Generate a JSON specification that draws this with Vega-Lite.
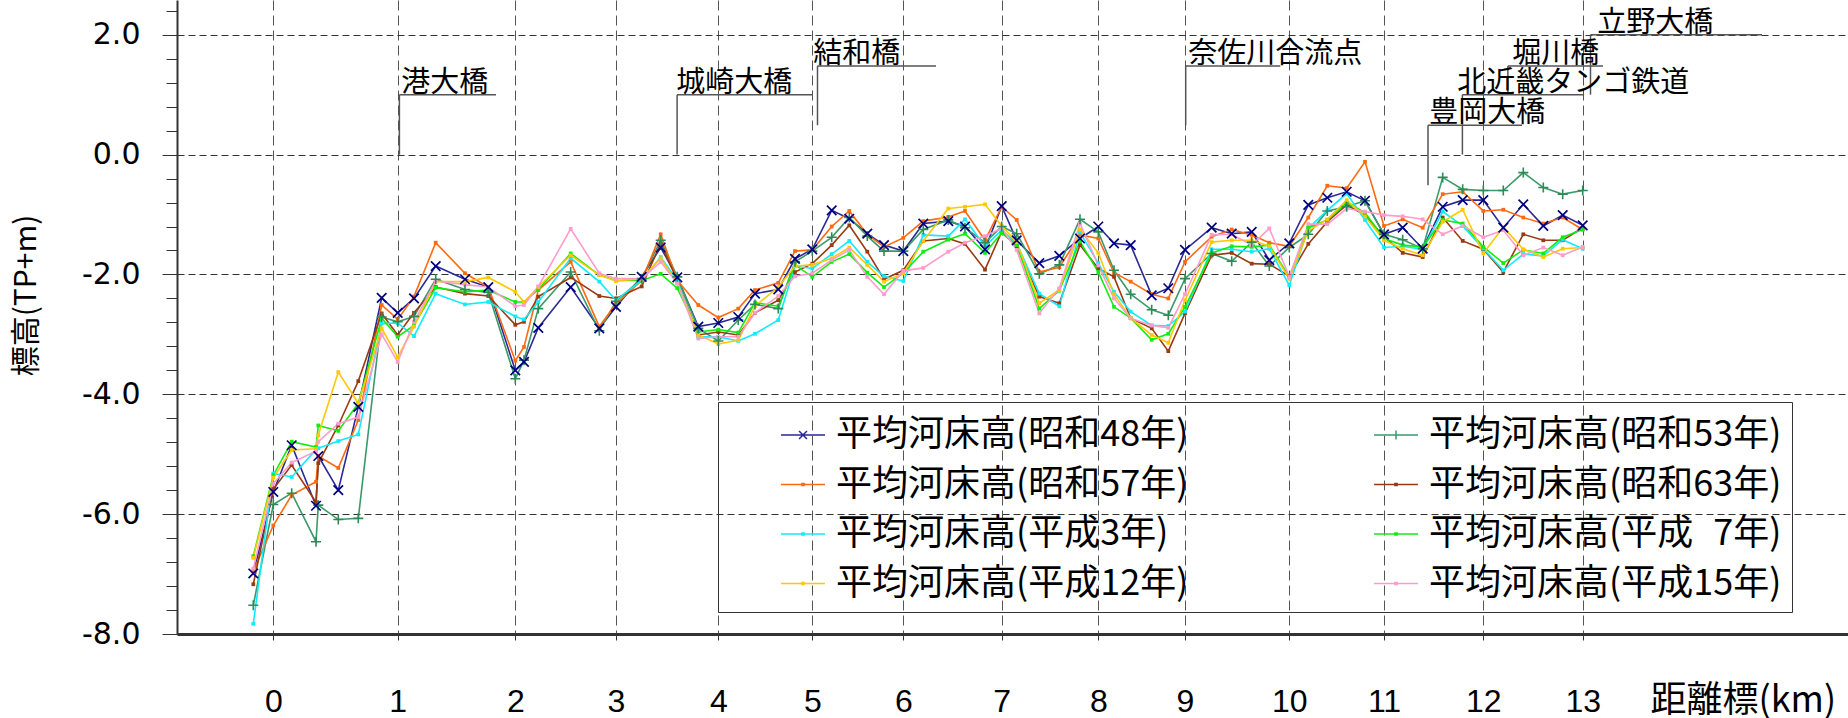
{
"$schema": "https://vega.github.io/schema/vega-lite/v6.json",
"width": 1671, "height": 634,
"autosize": "none",
"padding": {"left": 177, "top": 0, "right": 0, "bottom": 84},
"background": "white",
"config": {"view": {"stroke": null}, "font": "Liberation Sans"},
"datasets": {
"leaders": [
{"d":1.261,"z":0,"d2":1.261,"z2":1.0},{"d":1.261,"z":1.0,"d2":2.227,"z2":1.0},
{"d":4.038,"z":0,"d2":4.038,"z2":1.0},{"d":4.038,"z":1.0,"d2":5.397,"z2":1.0},
{"d":5.442,"z":0.49,"d2":5.442,"z2":1.48},{"d":5.442,"z":1.48,"d2":6.627,"z2":1.48},
{"d":9.124,"z":0.49,"d2":9.124,"z2":1.48},{"d":9.124,"z":1.48,"d2":10.07,"z2":1.48},
{"d":11.547,"z":-0.51,"d2":11.547,"z2":0.49},{"d":11.547,"z":0.49,"d2":12.487,"z2":0.49},
{"d":11.891,"z":0,"d2":11.891,"z2":1.0},{"d":11.891,"z":1.0,"d2":13.107,"z2":1.0},
{"d":12.346,"z":1.0,"d2":12.346,"z2":1.48},{"d":12.346,"z":1.48,"d2":13.297,"z2":1.48},
{"d":13.172,"z":1.0,"d2":13.172,"z2":2.0},{"d":13.172,"z":2.0,"d2":14.887,"z2":2.0}
],
"labels": [
{"t":"港大橋","d":1.28,"z":1.0},
{"t":"城崎大橋","d":4.03,"z":1.0},
{"t":"結和橋","d":5.40,"z":1.48},
{"t":"奈佐川合流点","d":9.15,"z":1.48},
{"t":"豊岡大橋","d":11.56,"z":0.49},
{"t":"北近畿タンゴ鉄道","d":11.84,"z":1.0},
{"t":"堀川橋","d":12.39,"z":1.48},
{"t":"立野大橋","d":13.24,"z":2.0}
],
"elev": [
{"s":"昭和48年","d":-0.2,"z":-6.99},{"s":"昭和48年","d":0,"z":-5.63},{"s":"昭和48年","d":0.184,"z":-4.85},{"s":"昭和48年","d":0.427,"z":-5.86},{"s":"昭和48年","d":0.45,"z":-5.03},{"s":"昭和48年","d":0.65,"z":-5.60},{"s":"昭和48年","d":0.85,"z":-4.21},{"s":"昭和48年","d":1.084,"z":-2.39},{"s":"昭和48年","d":1.244,"z":-2.64},{"s":"昭和48年","d":1.407,"z":-2.40},
{"s":"昭和48年","d":1.624,"z":-1.86},{"s":"昭和48年","d":1.917,"z":-2.08},{"s":"昭和48年","d":2.15,"z":-2.21},{"s":"昭和48年","d":2.42,"z":-3.60},{"s":"昭和48年","d":2.507,"z":-3.46},{"s":"昭和48年","d":2.65,"z":-2.89},{"s":"昭和48年","d":2.974,"z":-2.21},{"s":"昭和48年","d":3.26,"z":-2.90},{"s":"昭和48年","d":3.427,"z":-2.54},{"s":"昭和48年","d":3.684,"z":-2.04},
{"s":"昭和48年","d":3.874,"z":-1.55},{"s":"昭和48年","d":4.04,"z":-2.05},{"s":"昭和48年","d":4.25,"z":-2.87},{"s":"昭和48年","d":4.45,"z":-2.81},{"s":"昭和48年","d":4.65,"z":-2.71},{"s":"昭和48年","d":4.817,"z":-2.32},{"s":"昭和48年","d":5.05,"z":-2.25},{"s":"昭和48年","d":5.217,"z":-1.74},{"s":"昭和48年","d":5.39,"z":-1.58},{"s":"昭和48年","d":5.584,"z":-0.93},
{"s":"昭和48年","d":5.76,"z":-1.07},{"s":"昭和48年","d":5.94,"z":-1.32},{"s":"昭和48年","d":6.107,"z":-1.51},{"s":"昭和48年","d":6.3,"z":-1.61},{"s":"昭和48年","d":6.5,"z":-1.15},{"s":"昭和48年","d":6.75,"z":-1.11},{"s":"昭和48年","d":6.917,"z":-1.20},{"s":"昭和48年","d":7.117,"z":-1.58},{"s":"昭和48年","d":7.284,"z":-0.86},{"s":"昭和48年","d":7.434,"z":-1.43},
{"s":"昭和48年","d":7.66,"z":-1.81},{"s":"昭和48年","d":7.86,"z":-1.69},{"s":"昭和48年","d":8.067,"z":-1.40},{"s":"昭和48年","d":8.25,"z":-1.20},{"s":"昭和48年","d":8.407,"z":-1.48},{"s":"昭和48年","d":8.574,"z":-1.51},{"s":"昭和48年","d":8.784,"z":-2.35},{"s":"昭和48年","d":8.95,"z":-2.23},{"s":"昭和48年","d":9.117,"z":-1.59},{"s":"昭和48年","d":9.384,"z":-1.22},
{"s":"昭和48年","d":9.584,"z":-1.32},{"s":"昭和48年","d":9.784,"z":-1.29},{"s":"昭和48年","d":9.96,"z":-1.76},{"s":"昭和48年","d":10.16,"z":-1.48},{"s":"昭和48年","d":10.35,"z":-0.84},{"s":"昭和48年","d":10.54,"z":-0.72},{"s":"昭和48年","d":10.734,"z":-0.62},{"s":"昭和48年","d":10.917,"z":-0.77},{"s":"昭和48年","d":11.107,"z":-1.33},{"s":"昭和48年","d":11.294,"z":-1.22},
{"s":"昭和48年","d":11.494,"z":-1.57},{"s":"昭和48年","d":11.694,"z":-0.87},{"s":"昭和48年","d":11.894,"z":-0.76},{"s":"昭和48年","d":12.1,"z":-0.76},{"s":"昭和48年","d":12.3,"z":-1.22},{"s":"昭和48年","d":12.5,"z":-0.83},{"s":"昭和48年","d":12.7,"z":-1.19},{"s":"昭和48年","d":12.894,"z":-1.01},{"s":"昭和48年","d":13.094,"z":-1.18},

{"s":"昭和53年","d":-0.2,"z":-7.52},{"s":"昭和53年","d":0,"z":-5.84},{"s":"昭和53年","d":0.184,"z":-5.65},{"s":"昭和53年","d":0.427,"z":-6.46},{"s":"昭和53年","d":0.45,"z":-5.85},{"s":"昭和53年","d":0.65,"z":-6.09},{"s":"昭和53年","d":0.85,"z":-6.07},{"s":"昭和53年","d":1.084,"z":-2.71},{"s":"昭和53年","d":1.244,"z":-2.79},{"s":"昭和53年","d":1.407,"z":-2.70},
{"s":"昭和53年","d":1.624,"z":-2.08},{"s":"昭和53年","d":1.917,"z":-2.25},{"s":"昭和53年","d":2.15,"z":-2.30},{"s":"昭和53年","d":2.42,"z":-3.74},{"s":"昭和53年","d":2.507,"z":-3.43},{"s":"昭和53年","d":2.65,"z":-2.57},{"s":"昭和53年","d":2.974,"z":-1.96},{"s":"昭和53年","d":3.26,"z":-2.94},{"s":"昭和53年","d":3.427,"z":-2.45},{"s":"昭和53年","d":3.684,"z":-2.07},
{"s":"昭和53年","d":3.874,"z":-1.43},{"s":"昭和53年","d":4.04,"z":-2.04},{"s":"昭和53年","d":4.25,"z":-2.90},{"s":"昭和53年","d":4.45,"z":-3.11},{"s":"昭和53年","d":4.65,"z":-2.76},{"s":"昭和53年","d":4.817,"z":-2.50},{"s":"昭和53年","d":5.05,"z":-2.57},{"s":"昭和53年","d":5.217,"z":-1.79},{"s":"昭和53年","d":5.39,"z":-1.61},{"s":"昭和53年","d":5.584,"z":-1.38},
{"s":"昭和53年","d":5.76,"z":-1.05},{"s":"昭和53年","d":5.94,"z":-1.36},{"s":"昭和53年","d":6.107,"z":-1.61},{"s":"昭和53年","d":6.3,"z":-1.61},{"s":"昭和53年","d":6.5,"z":-1.25},{"s":"昭和53年","d":6.75,"z":-1.09},{"s":"昭和53年","d":6.917,"z":-1.22},{"s":"昭和53年","d":7.117,"z":-1.47},{"s":"昭和53年","d":7.284,"z":-1.20},{"s":"昭和53年","d":7.434,"z":-1.32},
{"s":"昭和53年","d":7.66,"z":-1.99},{"s":"昭和53年","d":7.86,"z":-1.84},{"s":"昭和53年","d":8.067,"z":-1.08},{"s":"昭和53年","d":8.25,"z":-1.29},{"s":"昭和53年","d":8.407,"z":-1.93},{"s":"昭和53年","d":8.574,"z":-2.33},{"s":"昭和53年","d":8.784,"z":-2.59},{"s":"昭和53年","d":8.95,"z":-2.68},{"s":"昭和53年","d":9.117,"z":-2.07},{"s":"昭和53年","d":9.384,"z":-1.65},
{"s":"昭和53年","d":9.584,"z":-1.78},{"s":"昭和53年","d":9.784,"z":-1.46},{"s":"昭和53年","d":9.96,"z":-1.86},{"s":"昭和53年","d":10.16,"z":-1.55},{"s":"昭和53年","d":10.35,"z":-1.33},{"s":"昭和53年","d":10.54,"z":-0.94},{"s":"昭和53年","d":10.734,"z":-0.87},{"s":"昭和53年","d":10.917,"z":-0.77},{"s":"昭和53年","d":11.107,"z":-1.33},{"s":"昭和53年","d":11.294,"z":-1.42},
{"s":"昭和53年","d":11.494,"z":-1.57},{"s":"昭和53年","d":11.694,"z":-0.38},{"s":"昭和53年","d":11.894,"z":-0.58},{"s":"昭和53年","d":12.1,"z":-0.60},{"s":"昭和53年","d":12.3,"z":-0.60},{"s":"昭和53年","d":12.5,"z":-0.30},{"s":"昭和53年","d":12.7,"z":-0.55},{"s":"昭和53年","d":12.894,"z":-0.66},{"s":"昭和53年","d":13.094,"z":-0.60},

{"s":"昭和57年","d":-0.2,"z":-6.95},{"s":"昭和57年","d":0,"z":-6.19},{"s":"昭和57年","d":0.184,"z":-5.68},{"s":"昭和57年","d":0.427,"z":-5.46},{"s":"昭和57年","d":0.45,"z":-5.03},{"s":"昭和57年","d":0.65,"z":-5.23},{"s":"昭和57年","d":0.85,"z":-4.43},{"s":"昭和57年","d":1.084,"z":-2.51},{"s":"昭和57年","d":1.244,"z":-2.75},{"s":"昭和57年","d":1.407,"z":-2.37},
{"s":"昭和57年","d":1.624,"z":-1.47},{"s":"昭和57年","d":1.917,"z":-1.98},{"s":"昭和57年","d":2.15,"z":-2.21},{"s":"昭和57年","d":2.42,"z":-3.44},{"s":"昭和57年","d":2.507,"z":-3.21},{"s":"昭和57年","d":2.65,"z":-2.26},{"s":"昭和57年","d":2.974,"z":-1.79},{"s":"昭和57年","d":3.26,"z":-2.87},{"s":"昭和57年","d":3.427,"z":-2.49},{"s":"昭和57年","d":3.684,"z":-2.10},
{"s":"昭和57年","d":3.874,"z":-1.33},{"s":"昭和57年","d":4.04,"z":-2.10},{"s":"昭和57年","d":4.25,"z":-2.51},{"s":"昭和57年","d":4.45,"z":-2.72},{"s":"昭和57年","d":4.65,"z":-2.57},{"s":"昭和57年","d":4.817,"z":-2.26},{"s":"昭和57年","d":5.05,"z":-2.14},{"s":"昭和57年","d":5.217,"z":-1.61},{"s":"昭和57年","d":5.39,"z":-1.59},{"s":"昭和57年","d":5.584,"z":-1.20},
{"s":"昭和57年","d":5.76,"z":-0.94},{"s":"昭和57年","d":5.94,"z":-1.33},{"s":"昭和57年","d":6.107,"z":-1.54},{"s":"昭和57年","d":6.3,"z":-1.39},{"s":"昭和57年","d":6.5,"z":-1.11},{"s":"昭和57年","d":6.75,"z":-1.04},{"s":"昭和57年","d":6.917,"z":-0.94},{"s":"昭和57年","d":7.117,"z":-1.43},{"s":"昭和57年","d":7.284,"z":-0.87},{"s":"昭和57年","d":7.434,"z":-1.09},
{"s":"昭和57年","d":7.66,"z":-1.96},{"s":"昭和57年","d":7.86,"z":-1.88},{"s":"昭和57年","d":8.067,"z":-1.34},{"s":"昭和57年","d":8.25,"z":-1.40},{"s":"昭和57年","d":8.407,"z":-1.97},{"s":"昭和57年","d":8.574,"z":-2.12},{"s":"昭和57年","d":8.784,"z":-2.33},{"s":"昭和57年","d":8.95,"z":-2.40},{"s":"昭和57年","d":9.117,"z":-1.79},{"s":"昭和57年","d":9.384,"z":-1.37},
{"s":"昭和57年","d":9.584,"z":-1.25},{"s":"昭和57年","d":9.784,"z":-1.34},{"s":"昭和57年","d":9.96,"z":-1.47},{"s":"昭和57年","d":10.16,"z":-1.53},{"s":"昭和57年","d":10.35,"z":-1.05},{"s":"昭和57年","d":10.54,"z":-0.52},{"s":"昭和57年","d":10.734,"z":-0.56},{"s":"昭和57年","d":10.917,"z":-0.12},{"s":"昭和57年","d":11.107,"z":-1.19},{"s":"昭和57年","d":11.294,"z":-1.08},
{"s":"昭和57年","d":11.494,"z":-1.22},{"s":"昭和57年","d":11.694,"z":-0.66},{"s":"昭和57年","d":11.894,"z":-0.62},{"s":"昭和57年","d":12.1,"z":-0.94},{"s":"昭和57年","d":12.3,"z":-0.92},{"s":"昭和57年","d":12.5,"z":-1.05},{"s":"昭和57年","d":12.7,"z":-1.15},{"s":"昭和57年","d":12.894,"z":-1.05},{"s":"昭和57年","d":13.094,"z":-1.25},

{"s":"昭和63年","d":-0.2,"z":-7.17},{"s":"昭和63年","d":0,"z":-5.58},{"s":"昭和63年","d":0.184,"z":-5.18},{"s":"昭和63年","d":0.427,"z":-5.80},{"s":"昭和63年","d":0.45,"z":-5.15},{"s":"昭和63年","d":0.65,"z":-4.52},{"s":"昭和63年","d":0.85,"z":-3.78},{"s":"昭和63年","d":1.084,"z":-2.65},{"s":"昭和63年","d":1.244,"z":-3.01},{"s":"昭和63年","d":1.407,"z":-2.64},
{"s":"昭和63年","d":1.624,"z":-2.21},{"s":"昭和63年","d":1.917,"z":-2.32},{"s":"昭和63年","d":2.15,"z":-2.36},{"s":"昭和63年","d":2.42,"z":-2.84},{"s":"昭和63年","d":2.507,"z":-2.79},{"s":"昭和63年","d":2.65,"z":-2.37},{"s":"昭和63年","d":2.974,"z":-2.05},{"s":"昭和63年","d":3.26,"z":-2.36},{"s":"昭和63年","d":3.427,"z":-2.40},{"s":"昭和63年","d":3.684,"z":-2.20},
{"s":"昭和63年","d":3.874,"z":-1.48},{"s":"昭和63年","d":4.04,"z":-2.10},{"s":"昭和63年","d":4.25,"z":-3.01},{"s":"昭和63年","d":4.45,"z":-2.96},{"s":"昭和63年","d":4.65,"z":-3.01},{"s":"昭和63年","d":4.817,"z":-2.64},{"s":"昭和63年","d":5.05,"z":-2.43},{"s":"昭和63年","d":5.217,"z":-1.96},{"s":"昭和63年","d":5.39,"z":-1.82},{"s":"昭和63年","d":5.584,"z":-1.51},
{"s":"昭和63年","d":5.76,"z":-1.18},{"s":"昭和63年","d":5.94,"z":-1.62},{"s":"昭和63年","d":6.107,"z":-2.08},{"s":"昭和63年","d":6.3,"z":-1.93},{"s":"昭和63年","d":6.5,"z":-1.44},{"s":"昭和63年","d":6.75,"z":-1.40},{"s":"昭和63年","d":6.917,"z":-1.49},{"s":"昭和63年","d":7.117,"z":-1.92},{"s":"昭和63年","d":7.284,"z":-1.29},{"s":"昭和63年","d":7.434,"z":-1.53},
{"s":"昭和63年","d":7.66,"z":-2.37},{"s":"昭和63年","d":7.86,"z":-2.48},{"s":"昭和63年","d":8.067,"z":-1.51},{"s":"昭和63年","d":8.25,"z":-1.90},{"s":"昭和63年","d":8.407,"z":-2.04},{"s":"昭和63年","d":8.574,"z":-2.73},{"s":"昭和63年","d":8.784,"z":-2.90},{"s":"昭和63年","d":8.95,"z":-3.28},{"s":"昭和63年","d":9.117,"z":-2.65},{"s":"昭和63年","d":9.384,"z":-1.68},
{"s":"昭和63年","d":9.584,"z":-1.64},{"s":"昭和63年","d":9.784,"z":-1.82},{"s":"昭和63年","d":9.96,"z":-1.83},{"s":"昭和63年","d":10.16,"z":-2.03},{"s":"昭和63年","d":10.35,"z":-1.49},{"s":"昭和63年","d":10.54,"z":-1.12},{"s":"昭和63年","d":10.734,"z":-0.84},{"s":"昭和63年","d":10.917,"z":-1.01},{"s":"昭和63年","d":11.107,"z":-1.37},{"s":"昭和63年","d":11.294,"z":-1.64},
{"s":"昭和63年","d":11.494,"z":-1.71},{"s":"昭和63年","d":11.694,"z":-1.05},{"s":"昭和63年","d":11.894,"z":-1.44},{"s":"昭和63年","d":12.1,"z":-1.58},{"s":"昭和63年","d":12.3,"z":-1.96},{"s":"昭和63年","d":12.5,"z":-1.33},{"s":"昭和63年","d":12.7,"z":-1.43},{"s":"昭和63年","d":12.894,"z":-1.43},{"s":"昭和63年","d":13.094,"z":-1.22},

{"s":"平成3年","d":-0.2,"z":-7.83},{"s":"平成3年","d":0,"z":-5.32},{"s":"平成3年","d":0.184,"z":-5.38},{"s":"平成3年","d":0.427,"z":-4.92},{"s":"平成3年","d":0.45,"z":-4.90},{"s":"平成3年","d":0.65,"z":-4.78},{"s":"平成3年","d":0.85,"z":-4.67},{"s":"平成3年","d":1.084,"z":-2.82},{"s":"平成3年","d":1.244,"z":-2.81},{"s":"平成3年","d":1.407,"z":-3.03},
{"s":"平成3年","d":1.624,"z":-2.32},{"s":"平成3年","d":1.917,"z":-2.50},{"s":"平成3年","d":2.15,"z":-2.46},{"s":"平成3年","d":2.42,"z":-2.70},{"s":"平成3年","d":2.507,"z":-2.75},{"s":"平成3年","d":2.65,"z":-2.46},{"s":"平成3年","d":2.974,"z":-1.73},{"s":"平成3年","d":3.26,"z":-2.12},{"s":"平成3年","d":3.427,"z":-2.43},{"s":"平成3年","d":3.684,"z":-2.10},
{"s":"平成3年","d":3.874,"z":-1.71},{"s":"平成3年","d":4.04,"z":-2.10},{"s":"平成3年","d":4.25,"z":-3.04},{"s":"平成3年","d":4.45,"z":-3.04},{"s":"平成3年","d":4.65,"z":-3.11},{"s":"平成3年","d":4.817,"z":-2.99},{"s":"平成3年","d":5.05,"z":-2.76},{"s":"平成3年","d":5.217,"z":-1.86},{"s":"平成3年","d":5.39,"z":-1.90},{"s":"平成3年","d":5.584,"z":-1.66},
{"s":"平成3年","d":5.76,"z":-1.44},{"s":"平成3年","d":5.94,"z":-1.79},{"s":"平成3年","d":6.107,"z":-2.03},{"s":"平成3年","d":6.3,"z":-2.11},{"s":"平成3年","d":6.5,"z":-1.34},{"s":"平成3年","d":6.75,"z":-1.36},{"s":"平成3年","d":6.917,"z":-1.08},{"s":"平成3年","d":7.117,"z":-1.53},{"s":"平成3年","d":7.284,"z":-1.26},{"s":"平成3年","d":7.434,"z":-1.48},
{"s":"平成3年","d":7.66,"z":-2.32},{"s":"平成3年","d":7.86,"z":-2.53},{"s":"平成3年","d":8.067,"z":-1.30},{"s":"平成3年","d":8.25,"z":-1.81},{"s":"平成3年","d":8.407,"z":-2.29},{"s":"平成3年","d":8.574,"z":-2.62},{"s":"平成3年","d":8.784,"z":-2.85},{"s":"平成3年","d":8.95,"z":-2.86},{"s":"平成3年","d":9.117,"z":-2.62},{"s":"平成3年","d":9.384,"z":-1.58},
{"s":"平成3年","d":9.584,"z":-1.58},{"s":"平成3年","d":9.784,"z":-1.62},{"s":"平成3年","d":9.96,"z":-1.57},{"s":"平成3年","d":10.16,"z":-2.18},{"s":"平成3年","d":10.35,"z":-1.23},{"s":"平成3年","d":10.54,"z":-0.93},{"s":"平成3年","d":10.734,"z":-0.65},{"s":"平成3年","d":10.917,"z":-1.09},{"s":"平成3年","d":11.107,"z":-1.55},{"s":"平成3年","d":11.294,"z":-1.53},
{"s":"平成3年","d":11.494,"z":-1.58},{"s":"平成3年","d":11.694,"z":-0.95},{"s":"平成3年","d":11.894,"z":-1.19},{"s":"平成3年","d":12.1,"z":-1.57},{"s":"平成3年","d":12.3,"z":-1.93},{"s":"平成3年","d":12.5,"z":-1.66},{"s":"平成3年","d":12.7,"z":-1.69},{"s":"平成3年","d":12.894,"z":-1.42},{"s":"平成3年","d":13.094,"z":-1.57},

{"s":"平成\u20077年","d":-0.2,"z":-6.70},{"s":"平成\u20077年","d":0,"z":-5.35},{"s":"平成\u20077年","d":0.184,"z":-4.79},{"s":"平成\u20077年","d":0.427,"z":-4.88},{"s":"平成\u20077年","d":0.45,"z":-4.52},{"s":"平成\u20077年","d":0.65,"z":-4.61},{"s":"平成\u20077年","d":0.85,"z":-4.15},{"s":"平成\u20077年","d":1.084,"z":-2.73},{"s":"平成\u20077年","d":1.244,"z":-3.04},{"s":"平成\u20077年","d":1.407,"z":-2.85},
{"s":"平成\u20077年","d":1.624,"z":-2.22},{"s":"平成\u20077年","d":1.917,"z":-2.29},{"s":"平成\u20077年","d":2.15,"z":-2.26},{"s":"平成\u20077年","d":2.42,"z":-2.46},{"s":"平成\u20077年","d":2.507,"z":-2.46},{"s":"平成\u20077年","d":2.65,"z":-2.25},{"s":"平成\u20077年","d":2.974,"z":-1.65},{"s":"平成\u20077年","d":3.26,"z":-2.01},{"s":"平成\u20077年","d":3.427,"z":-2.10},{"s":"平成\u20077年","d":3.684,"z":-2.10},
{"s":"平成\u20077年","d":3.874,"z":-1.99},{"s":"平成\u20077年","d":4.04,"z":-2.23},{"s":"平成\u20077年","d":4.25,"z":-2.96},{"s":"平成\u20077年","d":4.45,"z":-2.92},{"s":"平成\u20077年","d":4.65,"z":-2.97},{"s":"平成\u20077年","d":4.817,"z":-2.47},{"s":"平成\u20077年","d":5.05,"z":-2.53},{"s":"平成\u20077年","d":5.217,"z":-1.84},{"s":"平成\u20077年","d":5.39,"z":-2.04},{"s":"平成\u20077年","d":5.584,"z":-1.79},
{"s":"平成\u20077年","d":5.76,"z":-1.66},{"s":"平成\u20077年","d":5.94,"z":-1.97},{"s":"平成\u20077年","d":6.107,"z":-2.21},{"s":"平成\u20077年","d":6.3,"z":-1.98},{"s":"平成\u20077年","d":6.5,"z":-1.62},{"s":"平成\u20077年","d":6.75,"z":-1.42},{"s":"平成\u20077年","d":6.917,"z":-1.32},{"s":"平成\u20077年","d":7.117,"z":-1.64},{"s":"平成\u20077年","d":7.284,"z":-1.31},{"s":"平成\u20077年","d":7.434,"z":-1.51},
{"s":"平成\u20077年","d":7.66,"z":-2.57},{"s":"平成\u20077年","d":7.86,"z":-2.27},{"s":"平成\u20077年","d":8.067,"z":-1.45},{"s":"平成\u20077年","d":8.25,"z":-1.96},{"s":"平成\u20077年","d":8.407,"z":-2.54},{"s":"平成\u20077年","d":8.574,"z":-2.73},{"s":"平成\u20077年","d":8.784,"z":-3.09},{"s":"平成\u20077年","d":8.95,"z":-2.99},{"s":"平成\u20077年","d":9.117,"z":-2.54},{"s":"平成\u20077年","d":9.384,"z":-1.64},
{"s":"平成\u20077年","d":9.584,"z":-1.53},{"s":"平成\u20077年","d":9.784,"z":-1.54},{"s":"平成\u20077年","d":9.96,"z":-1.51},{"s":"平成\u20077年","d":10.16,"z":-2.04},{"s":"平成\u20077年","d":10.35,"z":-1.22},{"s":"平成\u20077年","d":10.54,"z":-1.09},{"s":"平成\u20077年","d":10.734,"z":-0.80},{"s":"平成\u20077年","d":10.917,"z":-0.97},{"s":"平成\u20077年","d":11.107,"z":-1.40},{"s":"平成\u20077年","d":11.294,"z":-1.51},
{"s":"平成\u20077年","d":11.494,"z":-1.54},{"s":"平成\u20077年","d":11.694,"z":-1.09},{"s":"平成\u20077年","d":11.894,"z":-1.15},{"s":"平成\u20077年","d":12.1,"z":-1.54},{"s":"平成\u20077年","d":12.3,"z":-1.81},{"s":"平成\u20077年","d":12.5,"z":-1.59},{"s":"平成\u20077年","d":12.7,"z":-1.65},{"s":"平成\u20077年","d":12.894,"z":-1.38},{"s":"平成\u20077年","d":13.094,"z":-1.25},

{"s":"平成12年","d":-0.2,"z":-6.73},{"s":"平成12年","d":0,"z":-5.39},{"s":"平成12年","d":0.184,"z":-4.93},{"s":"平成12年","d":0.427,"z":-4.91},{"s":"平成12年","d":0.45,"z":-4.68},{"s":"平成12年","d":0.65,"z":-3.63},{"s":"平成12年","d":0.85,"z":-4.15},{"s":"平成12年","d":1.084,"z":-2.90},{"s":"平成12年","d":1.244,"z":-3.38},{"s":"平成12年","d":1.407,"z":-2.87},
{"s":"平成12年","d":1.624,"z":-2.12},{"s":"平成12年","d":1.917,"z":-2.12},{"s":"平成12年","d":2.15,"z":-2.05},{"s":"平成12年","d":2.42,"z":-2.29},{"s":"平成12年","d":2.507,"z":-2.46},{"s":"平成12年","d":2.65,"z":-2.21},{"s":"平成12年","d":2.974,"z":-1.68},{"s":"平成12年","d":3.26,"z":-2.01},{"s":"平成12年","d":3.427,"z":-2.11},{"s":"平成12年","d":3.684,"z":-2.07},
{"s":"平成12年","d":3.874,"z":-1.73},{"s":"平成12年","d":4.04,"z":-2.15},{"s":"平成12年","d":4.25,"z":-3.01},{"s":"平成12年","d":4.45,"z":-3.16},{"s":"平成12年","d":4.65,"z":-3.10},{"s":"平成12年","d":4.817,"z":-2.53},{"s":"平成12年","d":5.05,"z":-2.21},{"s":"平成12年","d":5.217,"z":-1.86},{"s":"平成12年","d":5.39,"z":-1.84},{"s":"平成12年","d":5.584,"z":-1.73},
{"s":"平成12年","d":5.76,"z":-1.55},{"s":"平成12年","d":5.94,"z":-1.84},{"s":"平成12年","d":6.107,"z":-2.12},{"s":"平成12年","d":6.3,"z":-1.98},{"s":"平成12年","d":6.5,"z":-1.44},{"s":"平成12年","d":6.75,"z":-0.90},{"s":"平成12年","d":6.917,"z":-0.87},{"s":"平成12年","d":7.117,"z":-0.83},{"s":"平成12年","d":7.284,"z":-1.19},{"s":"平成12年","d":7.434,"z":-1.46},
{"s":"平成12年","d":7.66,"z":-2.48},{"s":"平成12年","d":7.86,"z":-2.26},{"s":"平成12年","d":8.067,"z":-1.25},{"s":"平成12年","d":8.25,"z":-1.64},{"s":"平成12年","d":8.407,"z":-2.33},{"s":"平成12年","d":8.574,"z":-2.73},{"s":"平成12年","d":8.784,"z":-3.01},{"s":"平成12年","d":8.95,"z":-3.14},{"s":"平成12年","d":9.117,"z":-2.43},{"s":"平成12年","d":9.384,"z":-1.46},
{"s":"平成12年","d":9.584,"z":-1.43},{"s":"平成12年","d":9.784,"z":-1.43},{"s":"平成12年","d":9.96,"z":-1.53},{"s":"平成12年","d":10.16,"z":-2.07},{"s":"平成12年","d":10.35,"z":-1.27},{"s":"平成12年","d":10.54,"z":-1.08},{"s":"平成12年","d":10.734,"z":-0.76},{"s":"平成12年","d":10.917,"z":-1.03},{"s":"平成12年","d":11.107,"z":-1.43},{"s":"平成12年","d":11.294,"z":-1.57},
{"s":"平成12年","d":11.494,"z":-1.68},{"s":"平成12年","d":11.694,"z":-1.12},{"s":"平成12年","d":11.894,"z":-0.92},{"s":"平成12年","d":12.1,"z":-1.65},{"s":"平成12年","d":12.3,"z":-1.21},{"s":"平成12年","d":12.5,"z":-1.58},{"s":"平成12年","d":12.7,"z":-1.71},{"s":"平成12年","d":12.894,"z":-1.57},{"s":"平成12年","d":13.094,"z":-1.55},

{"s":"平成15年","d":-0.2,"z":-6.91},{"s":"平成15年","d":0,"z":-5.49},{"s":"平成15年","d":0.184,"z":-5.14},{"s":"平成15年","d":0.427,"z":-4.95},{"s":"平成15年","d":0.45,"z":-4.79},{"s":"平成15年","d":0.65,"z":-4.49},{"s":"平成15年","d":0.85,"z":-4.38},{"s":"平成15年","d":1.084,"z":-3.00},{"s":"平成15年","d":1.244,"z":-3.46},{"s":"平成15年","d":1.407,"z":-2.79},
{"s":"平成15年","d":1.624,"z":-2.11},{"s":"平成15年","d":1.917,"z":-2.17},{"s":"平成15年","d":2.15,"z":-2.21},{"s":"平成15年","d":2.42,"z":-2.53},{"s":"平成15年","d":2.507,"z":-2.51},{"s":"平成15年","d":2.65,"z":-2.20},{"s":"平成15年","d":2.974,"z":-1.24},{"s":"平成15年","d":3.26,"z":-1.98},{"s":"平成15年","d":3.427,"z":-2.07},{"s":"平成15年","d":3.684,"z":-2.07},
{"s":"平成15年","d":3.874,"z":-1.79},{"s":"平成15年","d":4.04,"z":-2.15},{"s":"平成15年","d":4.25,"z":-3.07},{"s":"平成15年","d":4.45,"z":-3.04},{"s":"平成15年","d":4.65,"z":-3.04},{"s":"平成15年","d":4.817,"z":-2.64},{"s":"平成15年","d":5.05,"z":-2.36},{"s":"平成15年","d":5.217,"z":-2.03},{"s":"平成15年","d":5.39,"z":-1.98},{"s":"平成15年","d":5.584,"z":-1.76},
{"s":"平成15年","d":5.76,"z":-1.59},{"s":"平成15年","d":5.94,"z":-2.04},{"s":"平成15年","d":6.107,"z":-2.33},{"s":"平成15年","d":6.3,"z":-1.94},{"s":"平成15年","d":6.5,"z":-1.89},{"s":"平成15年","d":6.75,"z":-1.62},{"s":"平成15年","d":6.917,"z":-1.47},{"s":"平成15年","d":7.117,"z":-1.36},{"s":"平成15年","d":7.284,"z":-1.23},{"s":"平成15年","d":7.434,"z":-1.59},
{"s":"平成15年","d":7.66,"z":-2.65},{"s":"平成15年","d":7.86,"z":-2.23},{"s":"平成15年","d":8.067,"z":-1.15},{"s":"平成15年","d":8.25,"z":-1.85},{"s":"平成15年","d":8.407,"z":-2.40},{"s":"平成15年","d":8.574,"z":-2.73},{"s":"平成15年","d":8.784,"z":-2.85},{"s":"平成15年","d":8.95,"z":-2.89},{"s":"平成15年","d":9.117,"z":-2.33},{"s":"平成15年","d":9.384,"z":-1.34},
{"s":"平成15年","d":9.584,"z":-1.33},{"s":"平成15年","d":9.784,"z":-1.51},{"s":"平成15年","d":9.96,"z":-1.23},{"s":"平成15年","d":10.16,"z":-2.04},{"s":"平成15年","d":10.35,"z":-1.16},{"s":"平成15年","d":10.54,"z":-1.16},{"s":"平成15年","d":10.734,"z":-0.90},{"s":"平成15年","d":10.917,"z":-0.95},{"s":"平成15年","d":11.107,"z":-1.01},{"s":"平成15年","d":11.294,"z":-1.03},
{"s":"平成15年","d":11.494,"z":-1.08},{"s":"平成15年","d":11.694,"z":-1.33},{"s":"平成15年","d":11.894,"z":-1.19},{"s":"平成15年","d":12.1,"z":-1.38},{"s":"平成15年","d":12.3,"z":-1.26},{"s":"平成15年","d":12.5,"z":-1.68},{"s":"平成15年","d":12.7,"z":-1.55},{"s":"平成15年","d":12.894,"z":-1.68},{"s":"平成15年","d":13.094,"z":-1.54}
]
},
"encoding": {
"x": {"field": "d", "type": "quantitative",
  "scale": {"domain": [-0.963, 15.747], "nice": false, "zero": false},
  "axis": {
    "values": [0,1.244,2.42,3.427,4.45,5.39,6.3,7.284,8.25,9.117,10.16,11.107,12.1,13.094],
    "labelExpr": "'' + indexof([0,1.244,2.42,3.427,4.45,5.39,6.3,7.284,8.25,9.117,10.16,11.107,12.1,13.094], datum.value)",
    "grid": true, "gridColor": "#555", "gridDash": [10, 5], "gridWidth": 1,
    "domainColor": "#333", "domainWidth": 3,
    "tickColor": "#333", "tickSize": 6, "tickWidth": 1,
    "labelFont": "Liberation Sans", "labelFontSize": 32, "labelColor": "#000", "labelPadding": 46,
    "title": "距離標(km)", "titleFont": "Noto Sans CJK JP", "titleFontSize": 36, "titleFontWeight": "normal",
    "titleColor": "#000", "titleX": 1473, "titleY": 66, "titleAlign": "left", "titleBaseline": "middle", "titleAnchor": "start"
  }},
"y": {"field": "z", "type": "quantitative",
  "scale": {"domain": [-8, 2.58], "nice": false, "zero": false},
  "axis": {
    "values": [-8,-7.6,-7.2,-6.8,-6.4,-6,-5.6,-5.2,-4.8,-4.4,-4,-3.6,-3.2,-2.8,-2.4,-2,-1.6,-1.2,-0.8,-0.4,0,0.4,0.8,1.2,1.6,2,2.4],
    "labelExpr": "abs(datum.value % 2) < 0.01 ? (datum.value < 0 ? '-' : '') + format(abs(datum.value), '.1f') : ''",
    "grid": true, "gridColor": "#333", "gridDash": [7, 4], "gridWidth": 1,
    "gridOpacity": {"condition": {"test": "abs(datum.value % 2) < 0.01", "value": 1}, "value": 0},
    "domainColor": "#333", "domainWidth": 2,
    "tickColor": "#333", "tickWidth": 1,
    "tickSize": {"condition": {"test": "abs(datum.value % 2) < 0.01", "value": 15}, "value": 11},
    "labelFont": "DejaVu Sans", "labelFontSize": 30, "labelColor": "#000", "labelPadding": 22,
    "title": "標高(TP+m)", "titleFont": "Noto Sans CJK JP", "titleFontSize": 30, "titleFontWeight": "normal",
    "titleColor": "#000", "titleX": -151, "titleY": 295, "titleAngle": -90, "titleAlign": "center", "titleBaseline": "middle"
  }}
},
"layer": [
{
 "data": {"name": "elev"},
 "mark": {"type": "line", "strokeWidth": 1.6},
 "encoding": {
  "stroke": {"field": "s", "type": "nominal",
   "scale": {"domain": ["平成15年","平成12年","平成\u20077年","平成3年","昭和63年","昭和57年","昭和53年","昭和48年"],
             "range": ["#ff9ccc","#ffc800","#10ee10","#10ecff","#9a3a10","#ff6a10","#3a9a6a","#2a2a96"]},
   "legend": null}
 }
},
{
 "data": {"name": "elev"},
 "transform": [{"filter": "datum.s != '昭和48年' && datum.s != '昭和53年'"}],
 "mark": {"type": "point", "shape": "square", "filled": true, "size": 14, "opacity": 1},
 "encoding": {
  "fill": {"field": "s", "type": "nominal",
   "scale": {"domain": ["昭和57年","昭和63年","平成3年","平成\u20077年","平成12年","平成15年"],
             "range": ["#ff6a10","#9a3a10","#10ecff","#10ee10","#ffc800","#ff9ccc"]},
   "legend": null}
 }
},
{
 "data": {"name": "elev"},
 "transform": [{"filter": "datum.s == '昭和53年'"}],
 "mark": {"type": "point", "shape": "M-1,0L1,0M0,-1L0,1", "size": 100, "strokeWidth": 1.6, "filled": false, "opacity": 1, "color": "#2e8b57"}
},
{
 "data": {"name": "elev"},
 "transform": [{"filter": "datum.s == '昭和48年'"}],
 "mark": {"type": "point", "shape": "M-1,-1L1,1M-1,1L1,-1", "size": 90, "strokeWidth": 1.7, "filled": false, "opacity": 1, "color": "#000080"}
},
{
 "data": {"name": "leaders"},
 "mark": {"type": "rule", "color": "#555", "strokeWidth": 1.5},
 "encoding": {
  "x2": {"field": "d2"},
  "y2": {"field": "z2"}
 }
},
{
 "data": {"name": "labels"},
 "mark": {"type": "text", "align": "left", "baseline": "alphabetic", "dy": -3, "font": "Noto Sans CJK JP", "fontSize": 29, "color": "#000"},
 "encoding": {
  "text": {"field": "t"}
 }
},
{
 "data": {"name": "elev"},
 "mark": {"type": "point", "opacity": 0, "filled": false},
 "encoding": {
  "color": {"field": "s", "type": "nominal",
   "scale": {"domain": ["昭和48年","昭和53年","昭和57年","昭和63年","平成3年","平成\u20077年","平成12年","平成15年"],
             "range": ["#2a2a96","#3a9a6a","#ff6a10","#9a3a10","#10ecff","#10ee10","#ffc800","#ff9ccc"]},
   "legend": {
    "title": null, "orient": "none", "legendX": 541, "legendY": 402, "columns": 2, "direction": "horizontal",
    "padding": 10, "strokeColor": "#333", "fillColor": null,
    "symbolSize": 1936, "symbolStrokeWidth": 1.5, "symbolOffset": 52, "symbolOpacity": 1,
    "labelOffset": 10, "labelFont": "Noto Sans CJK JP", "labelFontSize": 36, "labelColor": "#000", "labelLimit": 1000,
    "rowPadding": 8.5, "columnPadding": 132,
    "labelExpr": "'平均河床高(' + datum.label + ')'"
   }},
  "shape": {"field": "s", "type": "nominal",
   "scale": {"domain": ["昭和48年","昭和53年","昭和57年","昭和63年","平成3年","平成\u20077年","平成12年","平成15年"],
             "range": ["M-1,0L1,0M-0.18,-0.18L0.18,0.18M-0.18,0.18L0.18,-0.18",
                       "M-1,0L1,0M0,-0.2L0,0.2",
                       "M-1,0L1,0M-0.05,-0.05L0.05,-0.05L0.05,0.05L-0.05,0.05Z",
                       "M-1,0L1,0M-0.05,-0.05L0.05,-0.05L0.05,0.05L-0.05,0.05Z",
                       "M-1,0L1,0M-0.05,-0.05L0.05,-0.05L0.05,0.05L-0.05,0.05Z",
                       "M-1,0L1,0M-0.05,-0.05L0.05,-0.05L0.05,0.05L-0.05,0.05Z",
                       "M-1,0L1,0M-0.05,-0.05L0.05,-0.05L0.05,0.05L-0.05,0.05Z",
                       "M-1,0L1,0M-0.05,-0.05L0.05,-0.05L0.05,0.05L-0.05,0.05Z"]},
   "legend": {"title": null}}
 }
}
]
}
